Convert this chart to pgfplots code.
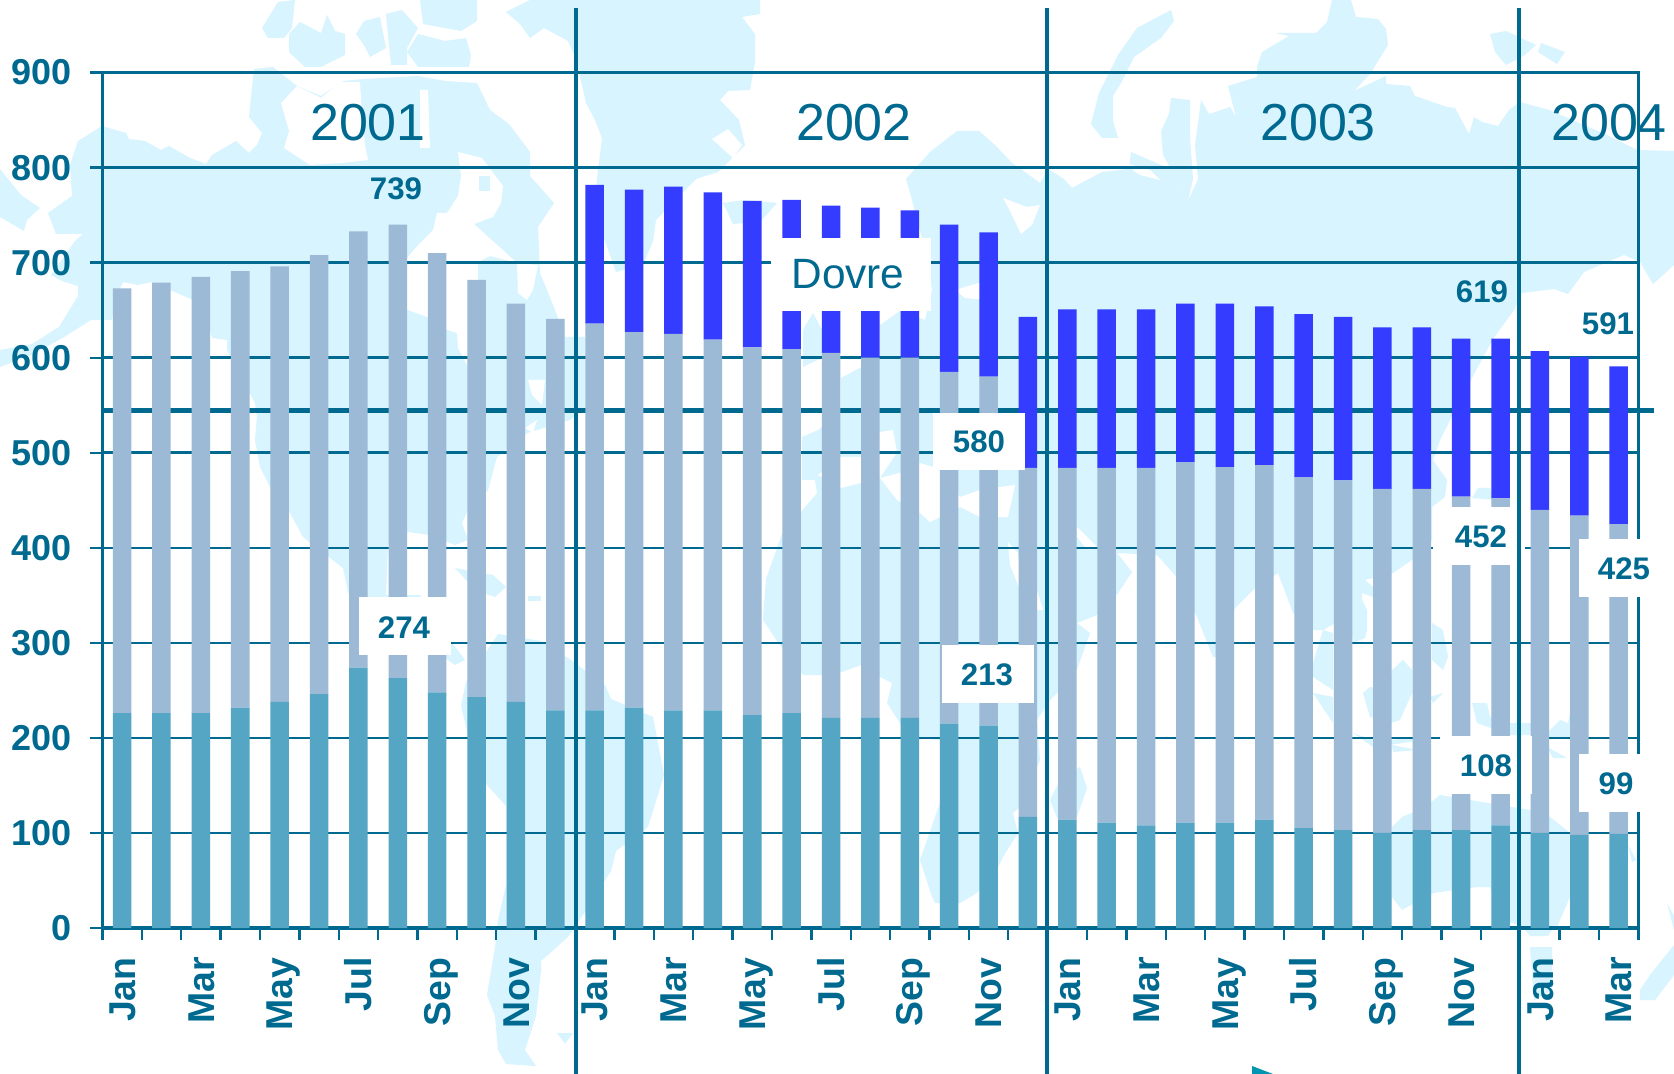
\documentclass[border=0pt]{standalone}
\usepackage{pgfplots}
\usepackage{pgfplotstable}
\usepackage{fontspec}
\setmainfont{Liberation Sans}
\pgfplotsset{compat=1.18}
\definecolor{ink}{HTML}{00698F}
\definecolor{barA}{HTML}{55A6C5}
\definecolor{barB}{HTML}{9CB9D6}
\definecolor{barC}{HTML}{333CFF}
\definecolor{mapc}{HTML}{D7F4FF}
\pgfplotstableread{
x teal grey blue
0 226 447 0
1 226 453 0
2 226 459 0
3 232 459 0
4 238 458 0
5 246 462 0
6 274 459 0
7 263 477 0
8 248 462 0
9 243 439 0
10 238 419 0
11 229 412 0
12 229 407 146
13 232 395 150
14 229 396 155
15 229 390 155
16 224 387 154
17 226 383 157
18 221 384 155
19 221 379 158
20 221 379 155
21 215 370 155
22 213 367 152
23 117 367 159
24 114 370 167
25 111 373 167
26 108 376 167
27 111 379 167
28 111 374 172
29 114 373 167
30 105 369 172
31 103 368 172
32 100 362 170
33 103 359 170
34 103 351 166
35 108 344 168
36 100 340 167
37 98 336 167
38 99 326 166
}\datatable
\newcommand{\lbl}[3]{\node[text=ink,font=\bfseries\fontsize{15.6}{16}\selectfont,inner sep=0pt] at (#1,#2) {#3};}
\newcommand{\yr}[3]{\node[text=ink,font=\fontsize{26}{27}\selectfont,inner sep=0pt] at (#1,#2) {#3};}
\begin{document}
\begin{tikzpicture}
\begin{scope}[x=0.5pt,y=-0.5pt]
\fill[white] (0,0) rectangle (1674,1074);
% --- world map in the background ---
\fill[mapc] (0,169)--(21,195)--(40,208)--(27,220)--(24,231)--(0,217)--cycle;
% north america
\fill[mapc] (102,126)--(126,133)--(129,139)--(145,141)--(161,150)--(169,146)--(190,158)--(206,164)--(212,155)--(236,141)--(249,153)--(257,145)--(262,133)--(249,117)--(254,69)--(273,67)--(297,86)--(321,96)--(343,81)--(364,79)--(418,76)--(445,81)--(477,83)--(490,110)--(509,124)--(530,152)--(530,176)--(554,203)--(538,227)--(540,273)--(555,310)--(565,337)--(585,337)--(585,407)--(570,420)--(547,427)--(527,433)--(497,457)--(488,490)--(467,512)--(462,523)--(468,540)--(455,545)--(430,535)--(408,532)--(388,545)--(386,595)--(420,595)--(450,640)--(465,660)--(455,665)--(420,640)--(362,620)--(348,592)--(343,568)--(303,537)--(290,513)--(270,487)--(260,467)--(255,440)--(257,417)--(255,403)--(248,390)--(227,350)--(227,340)--(212,338)--(210,330)--(193,300)--(152,282)--(138,285)--(123,282)--(115,300)--(112,320)--(91,320)--(64,337)--(32,355)--(0,367)--(0,350)--(32,344)--(59,327)--(78,296)--(78,286)--(62,281)--(51,275)--(75,241)--(83,234)--(56,234)--(48,213)--(72,196)--(70,165)--(78,141)--cycle;
% white waters inside north america
\fill[white] (297,86)--(321,98)--(340,82)--(360,82)--(362,115)--(365,145)--(368,160)--(342,163)--(310,165)--(284,148)--(289,131)--(281,103)--cycle;
\fill[white] (420,90)--(428,90)--(430,148)--(420,148)--cycle;
\fill[white] (458,152)--(482,158)--(503,186)--(501,203)--(493,217)--(474,224)--(505,252)--(517,263)--(490,256)--(478,262)--(478,372)--(468,367)--(458,348)--(457,333)--(447,330)--(427,317)--(408,310)--(400,308)--(400,262)--(407,258)--(420,243)--(433,230)--(437,213)--(447,213)--(458,196)--(461,176)--cycle;
\fill[mapc] (479,176)--(490,176)--(490,191)--(479,191)--cycle;
\fill[white] (517,263)--(538,265)--(533,290)--(527,300)--(518,293)--cycle;
\fill[white] (528,380)--(545,380)--(542,405)--(532,395)--cycle;
\fill[white] (525,428)--(537,420)--(533,433)--cycle;
% canadian islands
\fill[mapc] (262,28)--(278,2)--(295,0)--(292,28)--(284,38)--(268,38)--cycle;
\fill[mapc] (289,34)--(300,22)--(321,33)--(327,15)--(335,31)--(345,34)--(345,55)--(321,67)--(305,67)--(289,52)--cycle;
\fill[mapc] (356,34)--(364,21)--(380,17)--(386,48)--(370,57)--(364,45)--cycle;
\fill[mapc] (386,14)--(402,10)--(418,28)--(407,48)--(407,65)--(391,65)--cycle;
\fill[mapc] (420,0)--(477,0)--(477,21)--(461,31)--(423,24)--cycle;
\fill[mapc] (418,34)--(445,41)--(466,38)--(471,55)--(469,67)--(418,67)--(407,52)--cycle;
% greenland
\fill[mapc] (506,12)--(530,0)--(760,0)--(760,14)--(742,17)--(755,34)--(755,62)--(750,90)--(728,91)--(720,100)--(739,120)--(745,145)--(718,172)--(696,179)--(656,220)--(653,241)--(643,265)--(616,272)--(605,241)--(595,213)--(597,179)--(602,138)--(595,120)--(586,103)--(576,59)--(568,41)--(544,28)--(530,38)--(520,24)--cycle;
\fill[white] (712,139)--(728,129)--(742,145)--(733,158)--cycle;
% iceland
\fill[mapc] (723,203)--(745,200)--(777,203)--(760,222)--(733,224)--cycle;
% central america islands, south america
\fill[mapc] (455,568)--(493,575)--(506,587)--(495,597)--(475,590)--cycle;
\fill[mapc] (528,596)--(541,596)--(541,601)--(528,601)--cycle;
\fill[mapc] (461,706)--(466,682)--(498,634)--(541,641)--(568,658)--(605,685)--(611,699)--(653,717)--(664,775)--(648,827)--(616,851)--(611,871)--(589,906)--(568,937)--(541,961)--(541,971)--(536,1016)--(525,1050)--(536,1066)--(506,1064)--(498,1050)--(495,1016)--(487,995)--(495,947)--(498,920)--(506,885)--(506,806)--(487,785)--(471,747)--cycle;
\fill[mapc] (557,1033)--(573,1033)--(565,1044)--cycle;
% eurasia and africa
\fill[mapc] (906,179)--(930,152)--(957,131)--(979,131)--(995,145)--(1011,162)--(1040,183)--(1048,169)--(1064,179)--(1072,188)--(1102,172)--(1129,169)--(1131,152)--(1161,165)--(1171,169)--(1188,201)--(1198,179)--(1195,145)--(1201,100)--(1209,114)--(1230,107)--(1236,117)--(1228,86)--(1257,77)--(1257,67)--(1262,52)--(1289,36)--(1276,33)--(1316,33)--(1327,22)--(1332,0)--(1351,0)--(1356,17)--(1378,19)--(1386,29)--(1388,45)--(1370,74)--(1354,91)--(1386,76)--(1386,84)--(1410,86)--(1415,96)--(1447,107)--(1455,108)--(1469,134)--(1474,117)--(1482,122)--(1498,126)--(1509,110)--(1520,102)--(1549,110)--(1605,134)--(1637,150)--(1674,151)--(1674,265)--(1653,284)--(1640,262)--(1624,255)--(1584,272)--(1568,294)--(1554,289)--(1522,293)--(1514,310)--(1493,339)--(1460,400)--(1440,440)--(1433,460)--(1447,480)--(1445,497)--(1432,507)--(1432,540)--(1412,560)--(1393,573)--(1365,580)--(1373,587)--(1373,597)--(1362,593)--(1362,600)--(1367,610)--(1367,630)--(1365,638)--(1353,643)--(1350,615)--(1323,630)--(1313,630)--(1293,613)--(1278,573)--(1253,590)--(1235,608)--(1217,657)--(1213,657)--(1197,617)--(1175,575)--(1157,555)--(1117,553)--(1132,572)--(1118,593)--(1097,615)--(1077,623)--(1090,633)--(1075,675)--(1050,700)--(1037,720)--(1040,760)--(1020,807)--(1013,813)--(1018,833)--(1003,857)--(998,867)--(977,893)--(960,903)--(935,903)--(932,897)--(920,860)--(942,797)--(940,740)--(919,738)--(900,723)--(887,703)--(892,683)--(880,677)--(861,665)--(842,672)--(820,675)--(803,675)--(777,641)--(763,620)--(766,579)--(782,534)--(801,512)--(817,493)--(815,480)--(802,480)--(802,437)--(818,430)--(841,413)--(841,378)--(880,357)--(880,325)--(900,311)--(925,320)--(932,290)--(925,250)--(912,200)--cycle;
% seas inside
\fill[white] (955,290)--(992,279)--(985,300)--(965,298)--cycle;
\fill[white] (1003,198)--(1027,207)--(1040,205)--(1032,225)--(1021,234)--(1011,213)--cycle;
\fill[white] (818,475)--(841,457)--(862,457)--(880,432)--(893,430)--(897,452)--(880,478)--(903,472)--(920,463)--(933,467)--(940,470)--(960,497)--(980,490)--(1000,487)--(1015,485)--(1008,517)--(980,517)--(960,507)--(940,517)--(930,522)--(920,513)--(897,500)--(880,478)--(841,488)--cycle;
\fill[white] (1008,542)--(1018,553)--(1020,570)--(1037,590)--(1043,610)--(1037,610)--(1020,590)--(1010,565)--cycle;
\fill[white] (1077,527)--(1097,547)--(1085,547)--(1077,537)--cycle;
\fill[white] (1121,162)--(1150,170)--(1160,180)--(1140,175)--cycle;
% uk
\fill[mapc] (803,367)--(811,363)--(822,358)--(822,330)--(813,313)--(803,330)--cycle;
% novaya zemlya and arctic strips
\fill[mapc] (1171,10)--(1174,21)--(1161,38)--(1134,57)--(1121,83)--(1113,96)--(1113,121)--(1118,138)--(1102,138)--(1091,124)--(1099,93)--(1118,55)--(1137,28)--cycle;
\fill[mapc] (1171,98)--(1190,100)--(1190,138)--(1193,179)--(1188,201)--(1171,169)--(1163,155)--(1161,131)--(1169,114)--cycle;
\fill[mapc] (1490,34)--(1506,31)--(1536,45)--(1525,55)--(1506,65)--(1495,52)--cycle;
\fill[mapc] (1541,43)--(1565,52)--(1557,64)--(1538,52)--cycle;
% madagascar, korea, japan
\fill[mapc] (1080,767)--(1087,788)--(1077,817)--(1057,818)--(1050,800)--(1060,780)--cycle;
\fill[mapc] (1472,498)--(1478,488)--(1490,488)--(1494,500)--cycle;
\fill[mapc] (1432,623)--(1443,630)--(1448,657)--(1443,670)--(1432,660)--cycle;
% south east asia
\fill[mapc] (1313,663)--(1323,630)--(1333,633)--(1333,690)--(1313,677)--cycle;
\fill[mapc] (1313,693)--(1333,723)--(1333,697)--cycle;
\fill[mapc] (1392,670)--(1403,660)--(1412,670)--(1412,693)--(1400,720)--(1390,723)--(1370,717)--(1363,693)--(1370,687)--(1390,690)--cycle;
\fill[mapc] (1430,697)--(1443,693)--(1433,703)--cycle;
\fill[mapc] (1472,703)--(1487,703)--(1490,717)--(1510,723)--(1532,723)--(1530,735)--(1510,735)--(1477,723)--cycle;
\fill[mapc] (1353,733)--(1373,740)--(1390,740)--(1413,738)--(1433,738)--(1390,745)--(1373,747)--cycle;
\fill[mapc] (1392,745)--(1417,750)--(1393,752)--cycle;
\fill[mapc] (1550,730)--(1560,720)--(1568,723)--(1570,713)--(1580,727)--(1583,737)--(1547,737)--cycle;
\fill[mapc] (1547,747)--(1567,758)--(1553,758)--cycle;
% australia, new zealand
\fill[mapc] (1392,827)--(1402,817)--(1425,807)--(1440,795)--(1530,810)--(1550,817)--(1570,833)--(1588,840)--(1570,897)--(1557,927)--(1525,927)--(1503,920)--(1490,887)--(1477,887)--(1433,893)--(1402,910)--(1392,897)--cycle;
\fill[mapc] (1525,930)--(1552,930)--(1548,936)--(1530,936)--cycle;
\fill[mapc] (1530,947)--(1552,947)--(1552,990)--(1534,1000)--cycle;
\fill[mapc] (1667,903)--(1674,916)--(1674,930)--cycle;
\fill[mapc] (1674,945)--(1650,975)--(1640,990)--(1640,1000)--(1655,1000)--(1674,975)--cycle;
\fill[mapc] (1628,845)--(1636,860)--(1632,862)--cycle;
\fill[ink!70!cyan] (1252,1066)--(1273,1074)--(1252,1074)--cycle;
\end{scope}
\begin{axis}[
  at={(51.2pt,-464pt)}, anchor=south west,
  scale only axis, width=768pt, height=427.7pt,
  xmin=-0.5, xmax=38.5, ymin=0, ymax=900,
  clip=false,
  ybar stacked, bar width=0.47,
  ytick={0,100,...,900},
  ymajorgrids, grid style={ink,line width=1.3pt},
  xtick={-0.5,0.5,...,38.5}, xticklabel=\empty,
  extra x ticks={0,2,...,38},
  extra x tick labels={Jan,Mar,May,Jul,Sep,Nov,Jan,Mar,May,Jul,Sep,Nov,Jan,Mar,May,Jul,Sep,Nov,Jan,Mar},
  extra x tick style={major tick length=0pt,
    xticklabel style={rotate=90,anchor=east,text=ink,inner sep=0pt,xshift=-14.5pt,yshift=-3pt,
      text height=0.72em,text depth=0pt,
      font=\bfseries\fontsize{18.7}{19}\selectfont}},
  xtick pos=bottom, ytick pos=left,
  tick align=outside, major tick length=6pt,
  tick style={ink,line width=1.2pt},
  axis line style={ink,line width=1.3pt},
  yticklabel style={text=ink,font=\bfseries\fontsize{18}{18}\selectfont,
    /pgf/number format/assume math mode=true,inner sep=0pt,xshift=-9pt},
]
\addplot[ybar,fill=barA,draw=none] table[x=x,y=teal] {\datatable};
\addplot[ybar,fill=barB,draw=none] table[x=x,y=grey] {\datatable};
\addplot[ybar,fill=barC,draw=none] table[x=x,y=blue] {\datatable};
\draw[ink,line width=2.5pt] (axis cs:-0.5,545) -- (axis cs:38.9,545);
\draw[ink,line width=1.9pt] (axis cs:-0.5,0) -- (axis cs:38.5,0);
\end{axis}
\begin{scope}[x=0.5pt,y=-0.5pt]
% white boxes behind the call-outs
\fill[white] (771,238) rectangle (931,311);
\fill[white] (933,413) rectangle (1025,470);
\fill[white] (942,645) rectangle (1034,703);
\fill[white] (359,597) rectangle (451,655);
\fill[white] (1433,507) rectangle (1525,565);
\fill[white] (1440,736) rectangle (1532,794);
\fill[white] (1579,539) rectangle (1671,597);
\fill[white] (1579,754) rectangle (1671,812);
% year dividers
\foreach \xx in {576,1047,1519}
  \draw[ink,line width=2.2pt] (\xx,8) -- (\xx,1074);
\yr{368}{123}{2001}
\yr{854}{123}{2002}
\yr{1318}{123}{2003}
\yr{1609}{123}{2004}
\node[text=ink,font=\fontsize{21.2}{22}\selectfont,inner sep=0pt] at (848,274) {Dovre};
\lbl{396}{189}{739}
\lbl{404}{628}{274}
\lbl{979}{442}{580}
\lbl{987}{675}{213}
\lbl{1482}{292}{619}
\lbl{1608}{324}{591}
\lbl{1481}{537}{452}
\lbl{1486}{766}{108}
\lbl{1624}{569}{425}
\lbl{1616}{784}{99}
\end{scope}
\pgfresetboundingbox
\path[use as bounding box] (0pt,0pt) rectangle (837pt,-537pt);
\end{tikzpicture}
\end{document}
